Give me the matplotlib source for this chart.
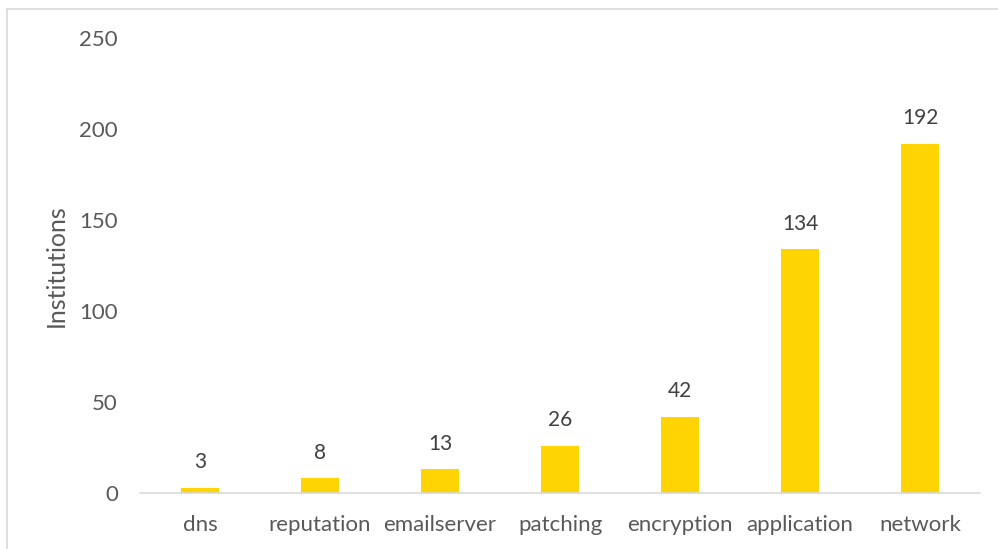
import matplotlib.pyplot as plt
from matplotlib.lines import Line2D

categories = ['dns', 'reputation', 'emailserver', 'patching', 'encryption', 'application', 'network']
institutions = [3, 8, 13, 26, 42, 134, 192]
yticks = [0, 50, 100, 150, 200, 250]

plt.rcParams['font.family'] = ['Lato', 'DejaVu Sans']
text_color = '#595959'

fig = plt.figure(figsize=(9.98, 5.49), dpi=100)
ax = fig.add_axes([140 / 998, 1 - 493 / 549, 840 / 998, (493 - 38) / 549])

x = range(len(categories))
bars = ax.bar(x, institutions, width=0.32, color='#FFD400', zorder=2)

for rect, v in zip(bars, institutions):
    ax.annotate(str(v), (rect.get_x() + rect.get_width() / 2, v),
                xytext=(0, 11), textcoords='offset points',
                ha='center', va='bottom', fontsize=15, color='#404040')

ax.set_xlim(-0.5, len(categories) - 0.5)
ax.set_ylim(0, 250)
ax.set_xticks(list(x))
ax.set_xticklabels(categories, fontsize=16, color=text_color)
ax.set_yticks(yticks)
ax.set_yticklabels([str(t) for t in yticks], fontsize=16, color=text_color)
ax.tick_params(axis='both', length=0)
ax.tick_params(axis='y', pad=16)
ax.tick_params(axis='x', pad=16)
ax.set_ylabel('Institutions', fontsize=18, color=text_color, labelpad=8)

for side in ['top', 'right', 'left']:
    ax.spines[side].set_visible(False)
ax.spines['bottom'].set_color('#d9d9d9')
ax.spines['bottom'].set_linewidth(1.2)

# chart frame: top and left edges
fig.add_artist(Line2D([7 / 998, 1], [1 - 9 / 549, 1 - 9 / 549], color='#d9d9d9', lw=1.2))
fig.add_artist(Line2D([7 / 998, 7 / 998], [0, 1 - 9 / 549], color='#d9d9d9', lw=1.2))

fig.savefig('out.png', dpi=100)
